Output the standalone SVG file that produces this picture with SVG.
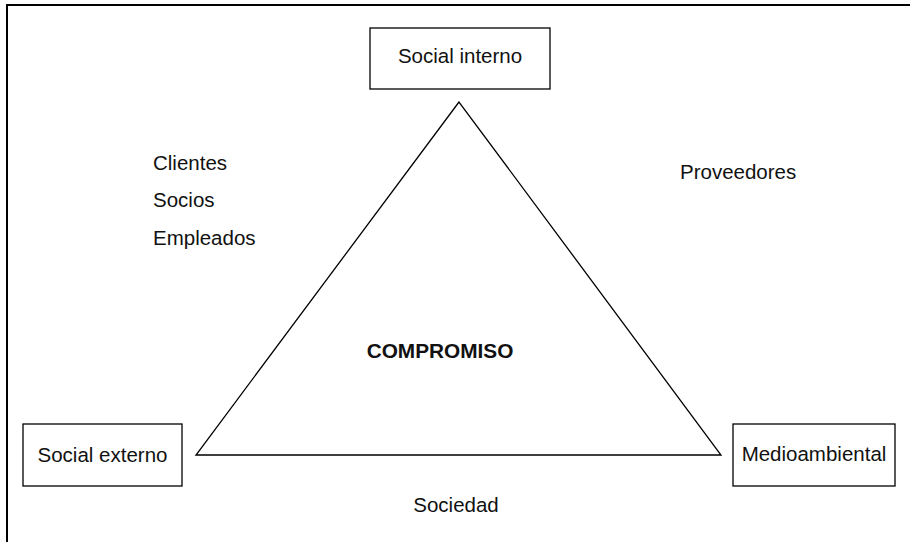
<svg xmlns="http://www.w3.org/2000/svg" width="910" height="542" viewBox="0 0 910 542">
<style>
.box{fill:#fff;stroke:#000;stroke-width:1.3}
.t{font-family:"Liberation Sans",Arial,sans-serif;font-size:20.5px;fill:#111}
.c{text-anchor:middle}
.b{font-weight:bold;font-size:20.8px}
.frame{fill:none;stroke:#000;stroke-width:2}
</style>
<rect width="910" height="542" fill="#fff"/>
<path class="frame" d="M7,542 V5 H910"/>
<g id="connectors">
<polygon points="459,102 196,455 721,455" fill="none" stroke="#000" stroke-width="1.3"/>
</g>
<g id="social-interno">
<rect class="box" x="370" y="28" width="180" height="61"/>
<text class="t c" x="460" y="63">Social interno</text>
</g>
<g id="social-externo">
<rect class="box" x="23" y="424" width="159" height="62"/>
<text class="t c" x="102.5" y="462">Social externo</text>
</g>
<g id="medioambiental">
<rect class="box" x="733" y="424" width="162" height="62"/>
<text class="t c" x="814" y="461">Medioambiental</text>
</g>
<g id="labels">
<text class="t" x="153" y="170">Clientes</text>
<text class="t" x="153" y="207">Socios</text>
<text class="t" x="153" y="245">Empleados</text>
<text class="t" x="680" y="179">Proveedores</text>
<text class="t b c" x="440" y="358">COMPROMISO</text>
<text class="t c" x="456" y="512">Sociedad</text>
</g>
</svg>
